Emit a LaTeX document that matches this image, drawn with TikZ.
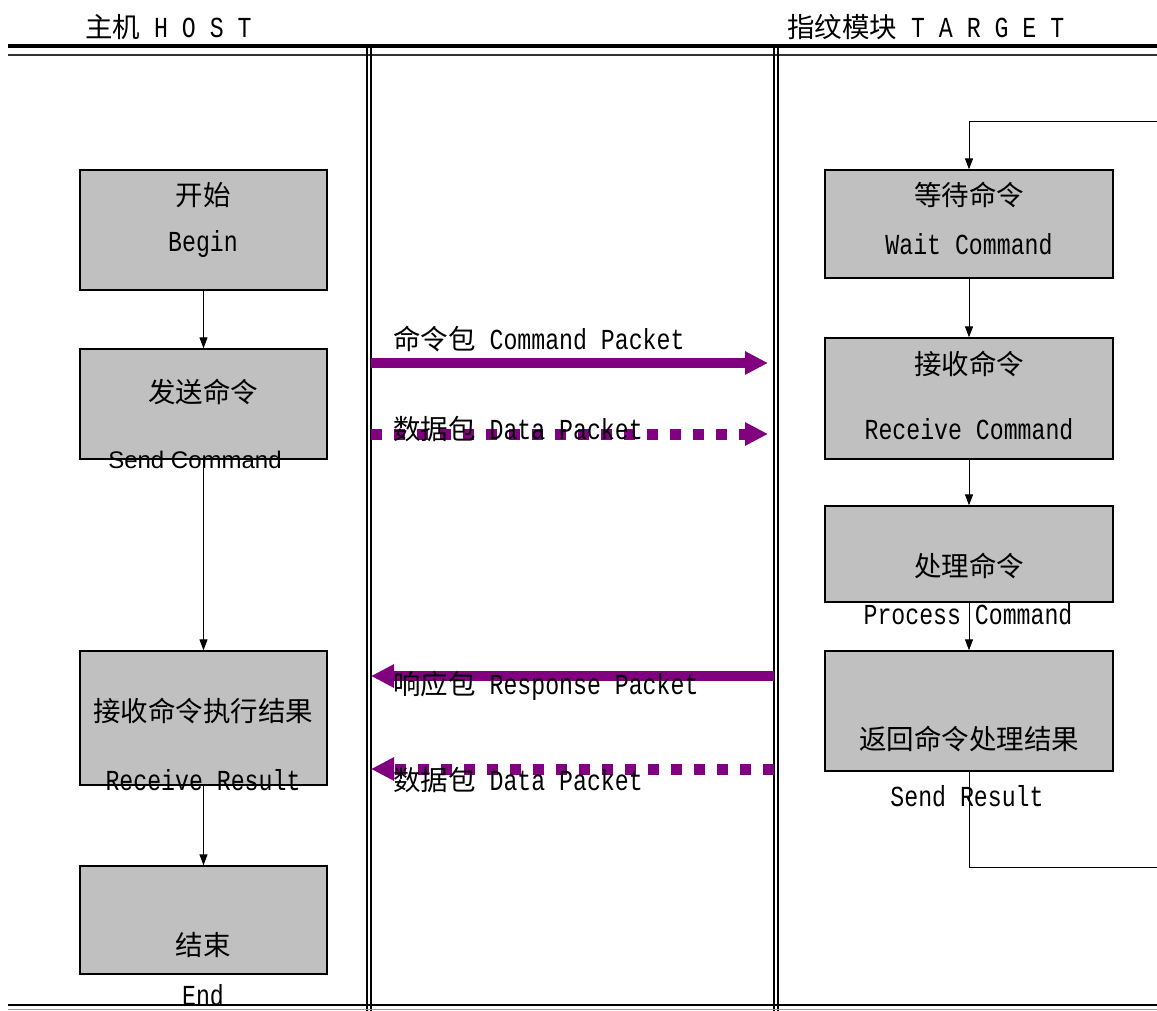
\documentclass[tikz,border=0pt]{standalone}
\usepackage{fontspec}
\setmainfont{Liberation Mono}
\newfontfamily\cjk{Noto Sans CJK SC}
\newfontfamily\mono[FakeStretch=0.8]{Liberation Mono}
\newfontfamily\sansf{Liberation Sans}
\usetikzlibrary{arrows.meta}
\definecolor{boxgray}{HTML}{C0C0C0}
\definecolor{pkt}{HTML}{800080}
\newcommand{\zhfont}{\fontsize{27.5}{27.5}\selectfont\cjk}
\newcommand{\enfont}{\fontsize{29}{29}\selectfont\mono}
\begin{document}
\begin{tikzpicture}[x=1pt,y=-1pt,
  box/.style={draw=black, fill=boxgray, line width=1.4pt, inner sep=0pt},
  lbox/.style={box, minimum width=247pt},
  rbox/.style={box, minimum width=288pt},
  zh/.style={inner sep=0pt, font=\zhfont},
  en/.style={inner sep=0pt, font=\enfont},
  lab/.style={inner sep=0pt, anchor=west, font=\enfont},
  flow/.style={line width=1pt, -{Triangle[length=11pt,width=8pt]}},
  plain/.style={line width=1pt},
  pktsolid/.style={draw=pkt, line width=10pt, -{Triangle[length=23pt,width=22pt]}},
  pktdot/.style={draw=pkt, line width=11pt, dash pattern=on 11pt off 12pt, -{Triangle[length=23pt,width=22pt]}},
  frame/.style={line width=1.5pt}
]
\useasboundingbox (0,0) rectangle (1157,1011);

% headers
\node[lab] (hhost) at (85,27) {{\zhfont 主机} H O S T};
\node[lab] (htarget) at (787,27) {{\zhfont 指纹模块} T A R G E T};

% frame lines
\draw[line width=4.5pt] (8,46) -- (1157,46);
\draw[frame, black!80] (8,55) -- (1157,55);
\draw[frame] (367,48) -- (367,1011);
\draw[frame] (371,48) -- (371,1011);
\draw[frame] (774,48) -- (774,1011);
\draw[frame] (778,48) -- (778,1011);
\draw[line width=2pt] (8,1005) -- (1157,1005);
\draw[frame, black!40] (8,1009.5) -- (1157,1009.5);

% left boxes
\node[lbox, minimum height=120pt] (begin) at (203.5,230) {};
\node[lbox, minimum height=110pt] (send) at (203.5,404) {};
\node[lbox, minimum height=134pt] (recv) at (203.5,718) {};
\node[lbox, minimum height=108pt] (endb) at (203.5,920) {};

\node[zh] (tbegin) at (203,195) {开始};
\node[en] (tbeginen) at (203,244) {Begin};
\node[zh] (tsend) at (203,392) {发送命令};
\node[inner sep=0pt, font=\fontsize{24}{24}\selectfont\sansf] (tsenden) at (195,460) {Send Command};
\node[zh] (trecv) at (203,711) {接收命令执行结果};
\node[en] (trecven) at (203,780) {Receive Result};
\node[zh] (tend) at (203,945) {结束};
\node[en] (tenden) at (203,995) {End};

\draw[flow] (begin.south) -- (send.north);
\draw[flow] (send.south) -- (recv.north);
\draw[flow] (recv.south) -- (endb.north);

% right boxes
\node[rbox, minimum height=108pt] (wait) at (969,224) {};
\node[rbox, minimum height=121pt] (rcmd) at (969,398.5) {};
\node[rbox, minimum height=96pt] (proc) at (969,554) {};
\node[rbox, minimum height=120pt] (ret) at (969,711) {};

\node[zh] (twait) at (969,195) {等待命令};
\node[en] (twaiten) at (969,244) {Wait Command};
\node[zh] (trcmd) at (969,364) {接收命令};
\node[en] (trcmden) at (969,429) {Receive Command};
\node[zh] (tproc) at (969,566) {处理命令};
\node[en] (tprocen) at (968,614) {Process Command};
\node[zh] (tret) at (969,739) {返回命令处理结果};
\node[en] (treten) at (967,796) {Send Result};

\draw[flow] (wait.south) -- (rcmd.north);
\draw[flow] (rcmd.south) -- (proc.north);
\draw[flow] (proc.south) -- (ret.north);

\coordinate (loopb) at (969,867);
\coordinate (loopbr) at (1157,867);
\coordinate (loopt) at (1157,122);
\coordinate (looptl) at (969,122);
\draw[plain] (ret.south) -- (loopb) -- (loopbr);
\draw[flow] (loopt) -- (looptl) -- (wait.north);

% packets
\coordinate (c1s) at (371,363);
\coordinate (c1e) at (768,363);
\coordinate (d1s) at (371,434);
\coordinate (d1e) at (768,434);
\coordinate (r1s) at (774,676);
\coordinate (r1e) at (371,676);
\coordinate (d2s) at (774,769);
\coordinate (d2e) at (371,769);

\draw[pktsolid] (c1s) -- (c1e);
\draw[pktdot] (d1s) -- (d1e);
\draw[pktsolid] (r1s) -- (r1e);
\draw[pktdot] (d2s) -- (d2e);

\node[lab] (lc1) at (393,339) {{\zhfont 命令包} Command Packet};
\node[lab] (ld1) at (393,429) {{\zhfont 数据包} Data Packet};
\node[lab] (lr1) at (393,686) {{\zhfont 响应包} Response Packet};
\node[lab] (ld2) at (393,780) {{\zhfont 数据包} Data Packet};
\end{tikzpicture}
\end{document}
